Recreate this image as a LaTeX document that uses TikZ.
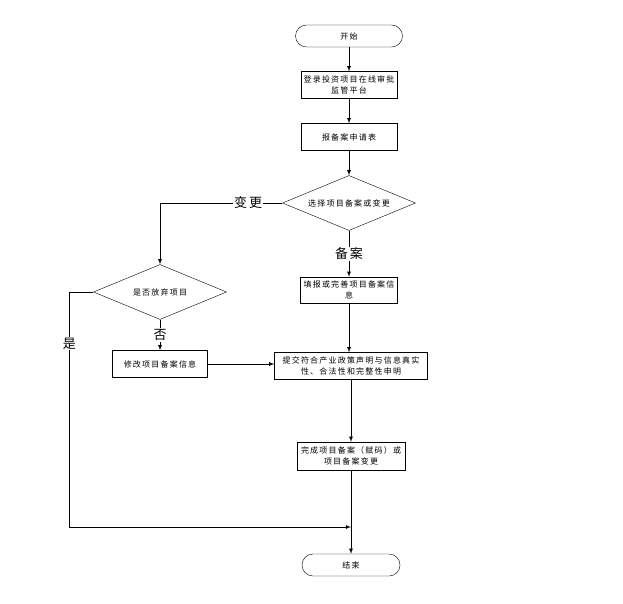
\documentclass[tikz,border=0pt]{standalone}
\usepackage{fontspec}
\setmainfont[LetterSpace=15]{Noto Sans CJK SC}
\usetikzlibrary{shapes.geometric,arrows,positioning}

\begin{document}
\begin{tikzpicture}[x=1pt,y=-1pt,arrow/.style={line width=0.8pt,-latex}]
	\tikzset{startstop/.style={draw,rectangle,rounded corners=11pt,minimum width=107pt,minimum height=22pt,inner sep=0pt,font=\fontsize{8}{11}\selectfont}}
	\tikzset{process/.style={draw,rectangle,minimum height=27pt,inner sep=0pt,align=center,font=\fontsize{8}{11}\selectfont}}
	\tikzset{decision/.style={draw,diamond,shape aspect=2.4,minimum width=133pt,minimum height=55pt,inner sep=0pt,font=\fontsize{8}{11}\selectfont}}
	\tikzset{branch/.style={fill=white,inner sep=1pt,font=\fontsize{13}{14}\selectfont}}

	\useasboundingbox (0,0) rectangle (623,604);

	% main column
	\node[startstop] (start) at (349,36) {开始};
	\node[process, minimum width=96pt] (login) at (349,85) {登录投资项目在线审批\\监管平台};
	\node[process, minimum width=96pt] (form) at (349,137) {报备案申请表};
	\node[decision] (choose) at (349,203) {选择项目备案或变更};
	\node[process, minimum width=97pt, minimum height=26pt] (fill) at (349,290) {填报或完善项目备案信\\息};
	\node[process, minimum width=153pt] (submit) at (351,366) {提交符合产业政策声明与信息真实\\性、合法性和完整性申明};
	\node[process, minimum width=108pt, minimum height=28pt] (done) at (351,456) {完成项目备案（赋码）或\\项目备案变更};
	\node[startstop, minimum width=98pt] (stop) at (351,565) {结束};

	% change branch
	\node[decision] (giveup) at (160,292) {是否放弃项目};
	\node[process, minimum width=95pt] (modify) at (160,364) {修改项目备案信息};

	\coordinate (merge) at (351,527);

	\draw [arrow] (start) -- (login);
	\draw [arrow] (login) -- (form);
	\draw [arrow] (form) -- (choose);
	\draw [arrow] (choose.west) -| node [branch, pos=0.14] {变更} (giveup.north);
	\draw [arrow] (choose) -- node [branch] {备案} (fill);
	\draw [arrow] (giveup) -- node [branch] {否} (modify);
	\draw [arrow] (giveup.west) -- ++(-24,0) |- node [branch, pos=0.11] {是} (merge);
	\draw [arrow] (modify.east) -- (modify.east -| submit.west);
	\draw [arrow] (fill.south) -- (fill.south |- submit.north);
	\draw [arrow] (submit) -- (done);
	\draw [arrow] (done) -- (stop);

\end{tikzpicture}
\end{document}
